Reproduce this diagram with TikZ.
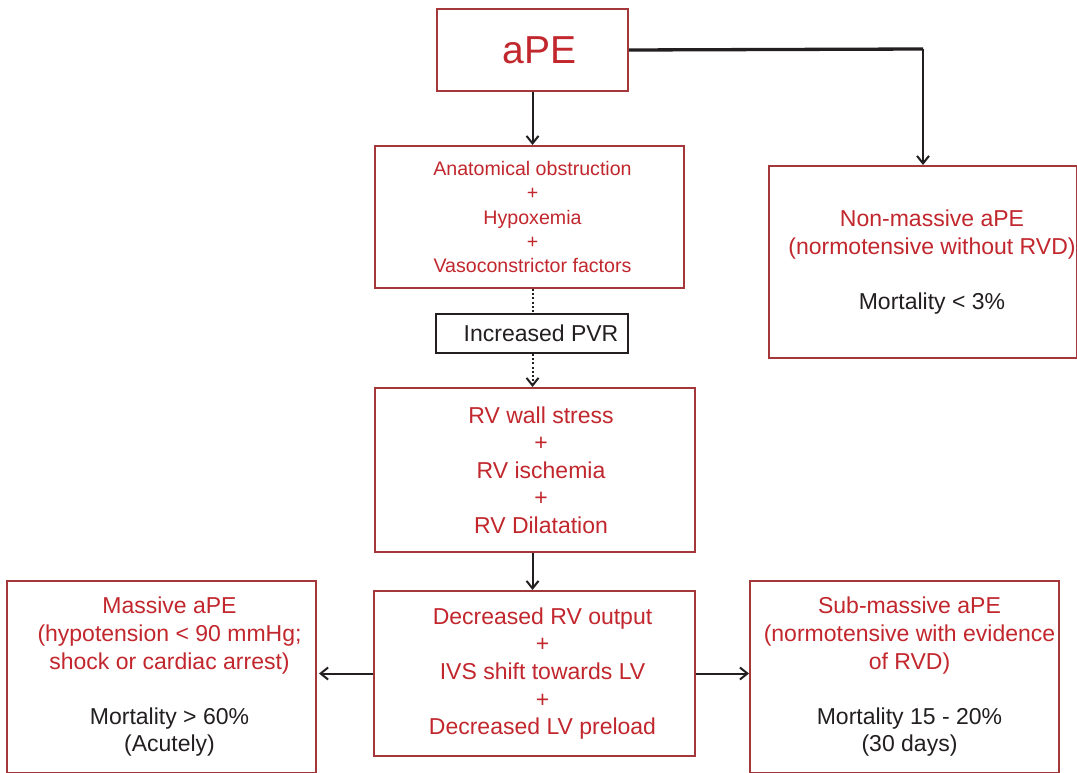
\documentclass[tikz,border=0pt]{standalone}
\usepackage{fontspec}
\setmainfont{Liberation Sans}
\usetikzlibrary{arrows.meta}
\definecolor{bred}{RGB}{163,55,58}
\definecolor{tred}{RGB}{193,39,45}
\definecolor{tdark}{RGB}{35,31,32}
\begin{document}
\begin{tikzpicture}[x=1pt,y=-1pt,
  box/.style={draw=bred,line width=2pt,fill=white,inner sep=0pt,anchor=north west},
  pbox/.style={box,draw=tdark},
  txt/.style={align=center,inner sep=0pt,font=\fontsize{23}{27.6}\selectfont,text=tdark},
  smalltxt/.style={align=center,inner sep=0pt,font=\fontsize{19.6}{24.2}\selectfont,text=tred},
  conn/.style={draw=tdark,line width=2pt},
  arr/.style={conn,-{Straight Barb[length=7.5pt,width=12pt,line width=2pt]}},
  dotconn/.style={conn,dash pattern=on 2pt off 2.2pt},
  dotarr/.style={arr,dash pattern=on 2pt off 2.2pt}]
\useasboundingbox (0,0) rectangle (1077,773);
% boxes
\node[box,minimum width=191pt,minimum height=82pt] (ape) at (436,8) {};
\node[box,minimum width=309pt,minimum height=142pt] (anat) at (374,145) {};
\node[pbox,minimum width=192pt,minimum height=39pt] (pvr) at (435,313) {};
\node[box,minimum width=320pt,minimum height=164pt] (rv) at (374,387) {};
\node[box,minimum width=321pt,minimum height=165pt] (dec) at (373,590) {};
\node[box,minimum width=309pt,minimum height=192pt] (mass) at (6,580) {};
\node[box,minimum width=308pt,minimum height=192pt] (nonm) at (768,165) {};
\node[box,minimum width=309pt,minimum height=192pt] (subm) at (749,580) {};
% texts
\node[txt,font=\fontsize{39}{45}\selectfont,text=tred,xshift=7pt] (tape) at (ape.center) {aPE};
\node[smalltxt,xshift=3pt] (tanat) at (anat.center) {Anatomical obstruction\\+\\Hypoxemia\\+\\Vasoconstrictor factors};
\node[txt,xshift=9pt] (tpvr) at (pvr.center) {Increased PVR};
\node[txt,text=tred,xshift=6pt] (trv) at (rv.center) {RV wall stress\\+\\RV ischemia\\+\\RV Dilatation};
\node[txt,text=tred,xshift=8pt] (tdec) at (dec.center) {Decreased RV output\\+\\IVS shift towards LV\\+\\Decreased LV preload};
\node[txt,xshift=8pt] (tmass) at (mass.center) {\textcolor{tred}{Massive aPE}\\\textcolor{tred}{(hypotension < 90 mmHg;}\\\textcolor{tred}{shock or cardiac arrest)}\\[27.6pt]Mortality > 60\%\\(Acutely)};
\node[txt,xshift=9pt] (tnonm) at (nonm.center) {\textcolor{tred}{Non-massive aPE}\\\textcolor{tred}{(normotensive without RVD)}\\[27.6pt]Mortality < 3\%};
\node[txt,xshift=5pt] (tsubm) at (subm.center) {\textcolor{tred}{Sub-massive aPE}\\\textcolor{tred}{(normotensive with evidence}\\\textcolor{tred}{of RVD)}\\[27.6pt]Mortality 15 - 20\%\\(30 days)};
% connectors
\coordinate (c1) at (923,49);
\draw[arr] (ape.south) -- (ape.south |- anat.north);
\draw[conn,line width=3.3pt] (ape.east) -- (c1);
\draw[arr] (c1) -- (c1 |- nonm.north);
\draw[dotconn] (ape.south |- anat.south) -- (ape.south |- pvr.north);
\draw[dotarr] (ape.south |- pvr.south) -- (ape.south |- rv.north);
\draw[arr] (ape.south |- rv.south) -- (ape.south |- dec.north);
\draw[arr,shorten >=2pt] (dec.west) -- (dec.west -| mass.east);
\draw[arr] (dec.east) -- (dec.east -| subm.west);
\end{tikzpicture}
\end{document}
